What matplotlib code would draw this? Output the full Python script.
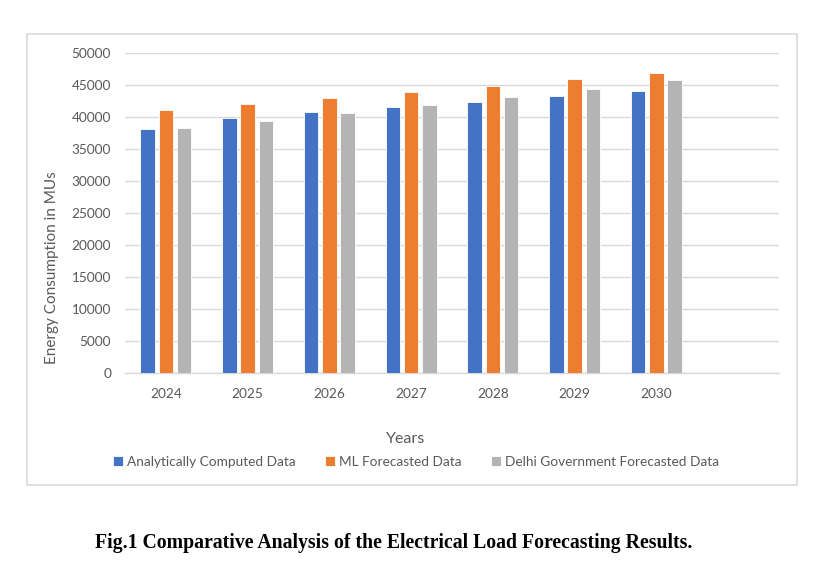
import numpy as np
import matplotlib
matplotlib.use("Agg")
import matplotlib.pyplot as plt
from matplotlib.patches import Rectangle

# ── Data ─────────────────────────────────────────────────────────────────────
years = ["2024", "2025", "2026", "2027", "2028", "2029", "2030", ""]
analytical = [38100, 39900, 40750, 41500, 42400, 43230, 44000]
ml_forecast = [41050, 42000, 43000, 43950, 44900, 45900, 46850]
delhi_gov = [38330, 39450, 40630, 41880, 43080, 44420, 45730]

series_names = ["Analytically Computed Data", "ML Forecasted Data",
                "Delhi Government Forecasted Data"]
colors = ["#4472C4", "#ED7D31", "#B4B4B4"]
yticks = list(range(0, 50001, 5000))

plt.rcParams["font.family"] = ["Lato", "DejaVu Sans"]
TXT = "#595959"
FS = 9.8

fig = plt.figure(figsize=(8.30, 5.67), dpi=100)
ax = fig.add_axes([125 / 830, 1 - 373 / 567, 654 / 830, 320 / 567])

# chart frame like the Excel chart area
fig.patches.append(Rectangle((27 / 830, 1 - 485 / 567), 770 / 830, 451 / 567,
                             transform=fig.transFigure, fill=False,
                             edgecolor="#D9D9D9", linewidth=1.2))

x = np.arange(len(years))
n = len(analytical)
pitch, width = 0.224, 0.178
for i, (vals, name, c) in enumerate(zip([analytical, ml_forecast, delhi_gov],
                                         series_names, colors)):
    ax.bar(x[:n] + (i - 1) * pitch, vals, width, color=c, label=name,
           edgecolor="white", linewidth=0.6, zorder=3)

ax.set_xlim(-0.5, len(years) - 0.5)
ax.set_ylim(0, 50000)
ax.set_yticks(yticks)
ax.set_yticklabels([str(v) for v in yticks], fontsize=FS, color=TXT)
ax.set_xticks(x)
ax.set_xticklabels(years, fontsize=FS, color=TXT)
ax.tick_params(axis="both", length=0)
ax.tick_params(axis="x", pad=10.5)
ax.tick_params(axis="y", pad=10)
ax.grid(True, axis="y", color="#D9D9D9", linewidth=1, zorder=0)
for s in ["top", "right", "left"]:
    ax.spines[s].set_visible(False)
ax.spines["bottom"].set_color("#D9D9D9")
ax.spines["bottom"].set_linewidth(1)

fig.text(52 / 830, 1 - 268 / 567, "Energy Consumption in MUs", rotation=90,
         ha="center", va="center", fontsize=11, color=TXT)
fig.text(406 / 830, 1 - 439 / 567, "Years", ha="center", va="center",
         fontsize=11.5, color=TXT)

leg = fig.legend(loc="center", bbox_to_anchor=(416 / 830, 1 - 462 / 567),
                 ncol=3, frameon=False, fontsize=FS, handlelength=0.7,
                 handleheight=0.7, handletextpad=0.3, columnspacing=2.2)
for t in leg.get_texts():
    t.set_color(TXT)

fig.text(394 / 830, 1 - 543 / 567,
         "Fig.1 Comparative Analysis of the Electrical Load Forecasting Results.",
         ha="center", va="center", fontsize=14.2, fontweight="bold",
         family="Liberation Serif", color="black")

fig.savefig("out.png", dpi=100)
